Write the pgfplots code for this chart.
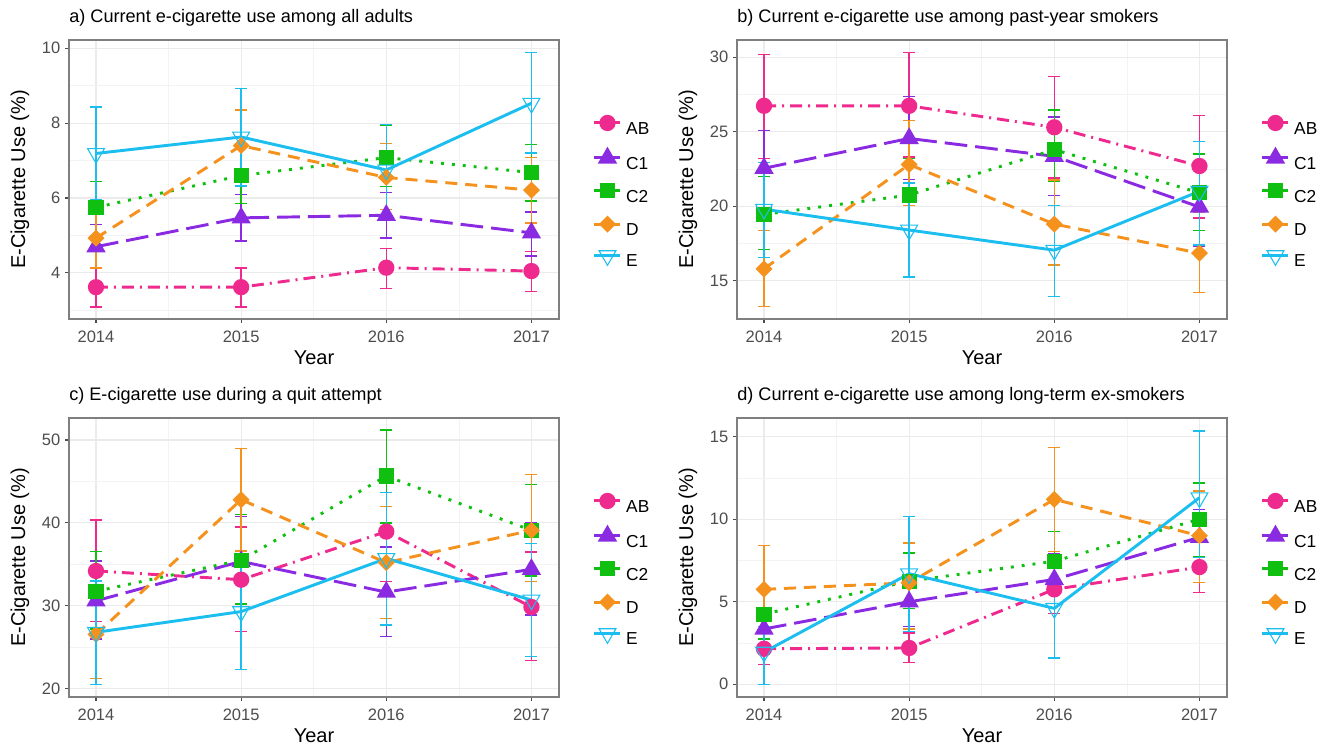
\documentclass[border=0pt]{standalone}
\usepackage{pgfplots}
\pgfplotsset{compat=1.18}
\usepackage{fontspec}
\setmainfont{Liberation Sans}
\definecolor{cAB}{HTML}{EE2A8F}
\definecolor{cC1}{HTML}{8A2BE2}
\definecolor{cC2}{HTML}{10C010}
\definecolor{cD}{HTML}{F5921E}
\definecolor{cE}{HTML}{1CBEF0}
\definecolor{gridc}{HTML}{EBEBEB}
\definecolor{gridm}{HTML}{F3F3F3}
\definecolor{borderc}{HTML}{7F7F7F}
\definecolor{labc}{HTML}{4D4D4D}
\pgfplotsset{
  errst/.style={error bars/.cd, y dir=both, y explicit,
     error bar style={solid, line width=1pt, color=#1},
     error mark=-, error mark options={solid, rotate=90, line width=1pt, mark size=4.5pt, color=#1}},
  sAB/.style={color=cAB, line width=2.2pt, dash pattern=on 9pt off 4.5pt on 1.5pt off 4.5pt,
     mark=*, mark size=5pt, mark options={solid, fill=cAB}, errst=cAB},
  sC1/.style={color=cC1, line width=2.2pt, dash pattern=on 17pt off 6pt,
     mark=triangle*, mark size=6.2pt, mark options={solid, fill=cC1}, errst=cC1},
  sC2/.style={color=cC2, line width=2.2pt, dash pattern=on 2.2pt off 6pt,
     mark=square*, mark size=4.6pt, mark options={solid, fill=cC2}, errst=cC2},
  sD/.style={color=cD, line width=2.2pt, dash pattern=on 9pt off 6pt,
     mark=square*, mark size=3.4pt, mark options={solid, fill=cD, rotate=45}, errst=cD},
  sE/.style={color=cE, line width=2.2pt, solid,
     mark=triangle, mark size=7.3pt, mark options={solid, rotate=180, line width=0.8pt, fill=none}, errst=cE},
  /pgfplots/table/tab/.style={/pgfplots/table/x=x, /pgfplots/table/y=y,
     /pgfplots/table/y error plus expr=\thisrow{h}-\thisrow{y},
     /pgfplots/table/y error minus expr=\thisrow{y}-\thisrow{l}},
  panel/.style={
    scale only axis, width=367.5pt, height=209.25pt,
    xmin=2013.814, xmax=2017.19,
    xtick={2014,2015,2016,2017}, xticklabels={2014,2015,2016,2017},
    minor xtick={2014.5,2015.5,2016.5},
    grid=both,
    major grid style={color=gridc, line width=0.8pt},
    minor grid style={color=gridm, line width=0.5pt},
    axis line style={color=borderc, line width=0.8pt},
    tick align=outside, xtick pos=bottom, ytick pos=left,
    major tick length=3pt, minor tick length=0pt,
    tick style={color=labc, line width=0.8pt},
    ticklabel style={font=\fontsize{12.4}{14}\selectfont, color=labc},
    xticklabel style={yshift=-2.5pt},
    /pgf/number format/assume math mode=true,
    xlabel={Year}, ylabel={E-Cigarette Use (\%)},
    every axis x label/.style={at={([yshift=-29pt]axis description cs:0.5,0)}, anchor=center, font=\fontsize{15}{18}\selectfont},
    every axis y label/.style={at={([xshift=-36.75pt]axis description cs:0,0.5)}, rotate=90, anchor=center, font=\fontsize{15}{18}\selectfont},
    every axis title/.style={at={([yshift=17pt]axis description cs:0,1)}, anchor=west, inner sep=0pt, font=\fontsize{13.6}{16}\selectfont},
    legend cell align=left,
    legend style={at={([xshift=25.5pt]axis description cs:1,0.4534)}, anchor=west, draw=none, fill=none,
       inner sep=0pt, outer sep=0pt, row sep=10.2pt, font=\fontsize{13}{15}\selectfont,
       nodes={inner sep=0pt},
       /tikz/every odd column/.append style={column sep=3.2pt}},
    legend image code/.code={\draw[solid, mark repeat=2, mark phase=2] plot coordinates {(0pt,4.6pt) (9.75pt,4.6pt) (19.5pt,4.6pt)};},
  }
}
\begin{document}
\begin{tikzpicture}
\useasboundingbox (0,0) rectangle (1000.5pt,561.75pt);
% ---------------- panel a
\begin{axis}[panel, at={(51.75pt,322.5pt)}, anchor=south west,
  ymin=2.77, ymax=10.22, ytick={4,6,8,10}, minor ytick={3,5,7,9},
  title={a) Current e-cigarette use among all adults}]
\addplot[sAB] table[tab] {
x y l h
2014 3.62 3.09 4.13
2015 3.62 3.09 4.13
2016 4.14 3.58 4.66
2017 4.05 3.51 4.58
};
\addplot[sC1] table[tab] {
x y l h
2014 4.70 4.15 5.29
2015 5.47 4.85 6.09
2016 5.54 4.93 6.14
2017 5.07 4.45 5.63
};
\addplot[sC2] table[tab] {
x y l h
2014 5.75 5.00 6.45
2015 6.60 5.85 7.35
2016 7.08 6.30 7.93
2017 6.68 5.92 7.43
};
\addplot[sD] table[tab] {
x y l h
2014 4.93 4.13 5.72
2015 7.40 6.45 8.35
2016 6.55 5.70 7.45
2017 6.21 5.33 7.09
};
\addplot[sE] table[tab] {
x y l h
2014 7.19 5.96 8.43
2015 7.63 6.32 8.93
2016 6.75 5.55 7.96
2017 8.53 7.20 9.88
};
\legend{AB,C1,C2,D,E}
\end{axis}
% ---------------- panel b
\begin{axis}[panel, at={(552.75pt,322.5pt)}, anchor=south west,
  ymin=12.43, ymax=31.16, ytick={15,20,25,30}, minor ytick={12.5,17.5,22.5,27.5},
  title={b) Current e-cigarette use among past-year smokers}]
\addplot[sAB] table[tab] {
x y l h
2014 26.74 23.20 30.20
2015 26.74 23.30 30.30
2016 25.30 21.90 28.70
2017 22.70 19.20 26.10
};
\addplot[sC1] table[tab] {
x y l h
2014 22.55 19.90 25.10
2015 24.55 21.80 27.35
2016 23.35 20.70 26.00
2017 19.95 17.30 22.90
};
\addplot[sC2] table[tab] {
x y l h
2014 19.45 17.10 22.00
2015 20.75 18.40 23.20
2016 23.80 21.65 26.45
2017 20.90 18.35 23.50
};
\addplot[sD] table[tab] {
x y l h
2014 15.80 13.25 18.35
2015 22.80 20.05 25.75
2016 18.80 16.05 21.75
2017 16.85 14.20 19.60
};
\addplot[sE] table[tab] {
x y l h
2014 19.80 16.55 22.95
2015 18.40 15.25 21.55
2016 17.05 13.95 20.05
2017 21.00 17.40 24.35
};
\legend{AB,C1,C2,D,E}
\end{axis}
% ---------------- panel c
\begin{axis}[panel, at={(51.75pt,39pt)}, anchor=south west,
  ymin=19.0, ymax=52.65, ytick={20,30,40,50}, minor ytick={25,35,45},
  title={c) E-cigarette use during a quit attempt}]
\addplot[sAB] table[tab] {
x y l h
2014 34.20 28.10 40.35
2015 33.15 26.90 39.50
2016 38.95 32.90 45.00
2017 29.85 23.40 36.50
};
\addplot[sC1] table[tab] {
x y l h
2014 30.60 26.00 35.40
2015 35.35 29.90 40.80
2016 31.65 26.30 37.10
2017 34.40 28.90 40.00
};
\addplot[sC2] table[tab] {
x y l h
2014 31.75 27.20 36.55
2015 35.50 30.20 41.00
2016 45.65 40.00 51.20
2017 39.10 33.60 44.65
};
\addplot[sD] table[tab] {
x y l h
2014 26.55 21.20 32.30
2015 42.80 36.60 49.00
2016 35.20 28.45 42.00
2017 39.10 32.95 45.80
};
\addplot[sE] table[tab] {
x y l h
2014 26.80 20.50 33.00
2015 29.30 22.30 36.30
2016 35.70 27.70 43.70
2017 30.70 23.90 37.55
};
\legend{AB,C1,C2,D,E}
\end{axis}
% ---------------- panel d
\begin{axis}[panel, at={(552.75pt,39pt)}, anchor=south west,
  ymin=-0.77, ymax=16.13, ytick={0,5,10,15}, minor ytick={2.5,7.5,12.5},
  title={d) Current e-cigarette use among long-term ex-smokers}]
\addplot[sAB] table[tab] {
x y l h
2014 2.15 1.20 3.10
2015 2.20 1.30 3.10
2016 5.75 4.30 7.30
2017 7.10 5.55 8.65
};
\addplot[sC1] table[tab] {
x y l h
2014 3.35 2.70 4.10
2015 5.00 3.50 6.50
2016 6.35 4.90 7.90
2017 8.90 7.30 10.60
};
\addplot[sC2] table[tab] {
x y l h
2014 4.25 2.75 5.70
2015 6.25 4.60 7.95
2016 7.45 5.60 9.25
2017 10.00 7.75 12.20
};
\addplot[sD] table[tab] {
x y l h
2014 5.75 3.10 8.40
2015 6.15 3.35 8.55
2016 11.20 8.05 14.35
2017 9.00 6.15 11.70
};
\addplot[sE] table[tab] {
x y l h
2014 1.95 0.00 3.50
2015 6.70 3.20 10.15
2016 4.60 1.60 7.70
2017 11.30 7.70 15.35
};
\legend{AB,C1,C2,D,E}
\end{axis}
\end{tikzpicture}
\end{document}
